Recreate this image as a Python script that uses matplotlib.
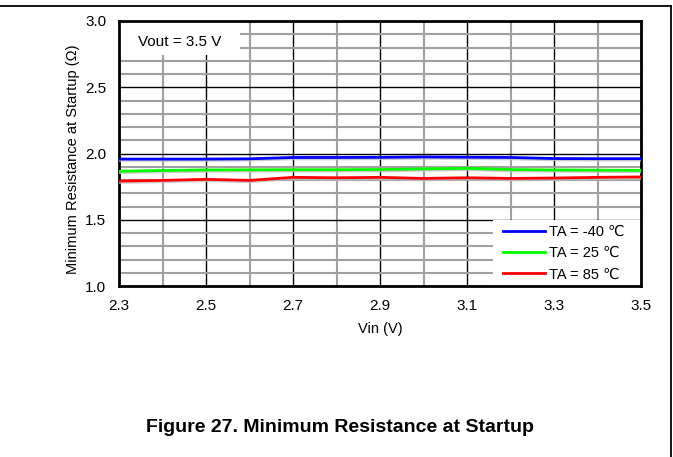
import matplotlib
matplotlib.use("Agg")
import matplotlib.pyplot as plt
import matplotlib.patheffects as pe
from matplotlib.lines import Line2D
from matplotlib.patches import Rectangle
import numpy as np

plt.rcParams['font.family'] = ['Liberation Sans', 'DejaVu Sans']

vin = [2.3, 2.4, 2.5, 2.6, 2.7, 2.8, 2.9, 3.0, 3.1, 3.2, 3.3, 3.4, 3.5]
r_m40 = [1.958, 1.958, 1.958, 1.960, 1.970, 1.970, 1.971, 1.974, 1.972, 1.970, 1.962, 1.961, 1.961]
r_25 = [1.866, 1.872, 1.876, 1.877, 1.878, 1.878, 1.879, 1.884, 1.888, 1.879, 1.876, 1.874, 1.873]
r_85 = [1.792, 1.797, 1.805, 1.797, 1.820, 1.817, 1.820, 1.812, 1.817, 1.812, 1.815, 1.820, 1.823]
labels = ['TA = -40 \u2103', 'TA = 25 \u2103', 'TA = 85 \u2103']
colors = ['#0000ff', '#00ff00', '#ff0000']
xticks = [2.3, 2.5, 2.7, 2.9, 3.1, 3.3, 3.5]
yticks = [1.0, 1.5, 2.0, 2.5, 3.0]

W, H = 673, 457
AW, AH = 641 - 119, 286 - 21
fig = plt.figure(figsize=(W / 100, H / 100), dpi=100)
ax = fig.add_axes([119 / W, 1 - 286 / H, AW / W, AH / H])

ax.set_xlim(2.3, 3.5)
ax.set_ylim(1.0, 3.0)
ax.set_xticks(xticks)
ax.set_xticklabels([f'{t:.1f}' for t in xticks])
ax.set_yticks(yticks)
ax.set_yticklabels([f'{t:.1f}' for t in yticks])
ax.set_xticks(np.round(np.arange(2.4, 3.5, 0.2), 2), minor=True)
ax.set_yticks([v for v in np.round(np.arange(1.1, 3.0, 0.1), 2) if abs(v * 2 - round(v * 2)) > 1e-6], minor=True)
ax.tick_params(which='both', length=0, labelsize=11, colors='black')
ax.tick_params(axis='x', pad=9)
ax.tick_params(axis='y', pad=9)
ax.grid(which='major', color='black', linewidth=1.0)
ax.grid(which='minor', color='#a0a0a0', linewidth=1.5)
ax.set_axisbelow(True)
for s in ax.spines.values():
    s.set_linewidth(2)
    s.set_color('black')

series = [r_m40, r_25, r_85]
handles = []
for ys, c, lab in zip(series, colors, labels):
    ax.plot(vin, ys, color=c, linewidth=2, label=lab,
            path_effects=[pe.SimpleLineShadow(offset=(0, -1), shadow_color='#c0c0c0', alpha=0.8), pe.Normal()],
            zorder=5)
    handles.append(Line2D([], [], color=c, linewidth=2))

# white legend area
ax.add_patch(Rectangle(((493 - 119) / AW, 0), (641 - 493) / AW, (286 - 220) / AH,
                       transform=ax.transAxes, facecolor='white', edgecolor='none', zorder=2))
leg = ax.legend(handles, labels, loc='upper left', bbox_to_anchor=((503 - 119) / AW, (286 - 225) / AH),
                frameon=False, fontsize=10.5, handlelength=2.9,
                handletextpad=0.25, borderaxespad=0.0, borderpad=0.0, labelspacing=0.5)
leg.set_zorder(7)

ax.add_patch(Rectangle((0, 1 - 34 / AH), 121 / AW, 34 / AH, transform=ax.transAxes,
                       facecolor='white', edgecolor='none', zorder=2))
ax.text(60.5 / AW, 1 - 20.5 / AH, 'Vout = 3.5 V', transform=ax.transAxes, fontsize=11,
        ha='center', va='center', zorder=6)

ax.set_xlabel('Vin (V)', fontsize=10.5, labelpad=7)
ax.set_ylabel('Minimum Resistance at Startup (\u03a9)', fontsize=10.5)
ax.yaxis.set_label_coords(-0.074, (286 - 159) / AH)

fig.text(340 / W, 1 - 427 / H, 'Figure 27. Minimum Resistance at Startup', fontsize=14,
         fontweight='bold', ha='center', va='center')

fig.add_artist(Line2D([0, 671 / W], [1 - 6 / H, 1 - 6 / H], color='black', linewidth=1.3, transform=fig.transFigure))
fig.add_artist(Line2D([671 / W, 671 / W], [1 - 6 / H, 0], color='black', linewidth=1.3, transform=fig.transFigure))

fig.savefig('out.png', dpi=100)
